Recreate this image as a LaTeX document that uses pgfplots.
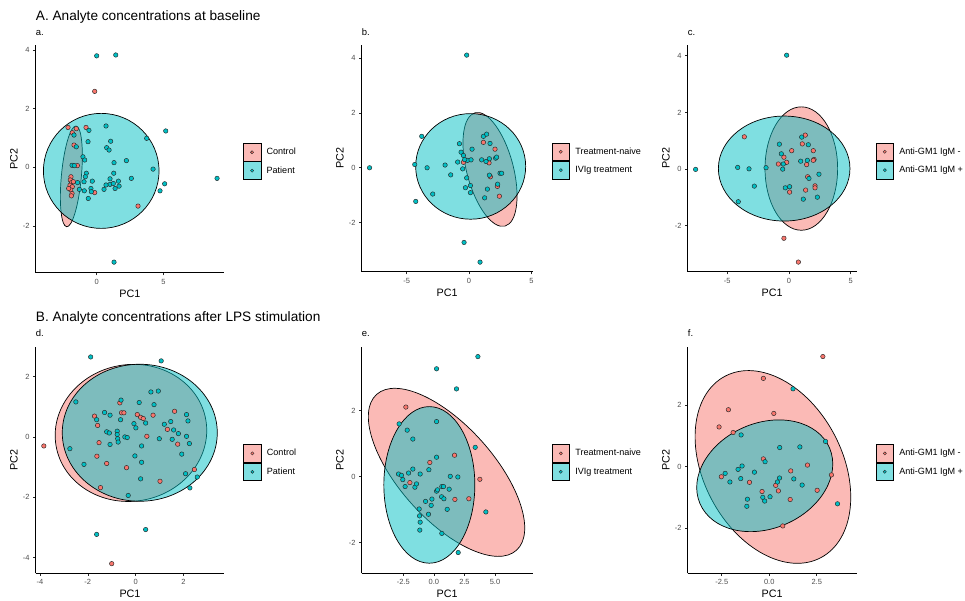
\documentclass[border=0pt]{standalone}
\usepackage{fontspec}
\setmainfont{Liberation Sans}
\usepackage{pgfplots}
\pgfplotsset{compat=1.18}
\definecolor{ggred}{HTML}{F8766D}
\definecolor{ggteal}{HTML}{00BFC4}
\definecolor{tickgray}{HTML}{4D4D4D}
\pgfplotsset{
  ggaxis/.style={
    scale only axis,
    axis lines*=left,
    axis line style={-, black, line width=0.8bp},
    tick align=outside,
    major tick length=2.7bp,
    tick style={black!85, line width=0.6bp},
    ticklabel style={font=\fontsize{7.5}{8}\selectfont, text=tickgray},
    /pgf/number format/assume math mode=true,
    xlabel={PC1}, ylabel={PC2},
    label style={font=\fontsize{10.8}{12}\selectfont},
    x label style={at={(axis description cs:0.5,0)}, anchor=center, yshift=-20.6bp},
    y label style={at={(axis description cs:0,0.5)}, anchor=center, rotate=0, yshift=21.7bp},
    clip=false,
    legend cell align=left,
    legend style={at={(1,0.5)}, anchor=west, xshift=18.7bp, yshift=-2.6bp,
      draw=none, fill=none, inner sep=0pt, row sep=0pt, column sep=5.3bp,
      font=\fontsize{9.1}{10}\selectfont, nodes={inner sep=0pt}},
  },
  redpts/.style={only marks, mark=*, mark size=2.25bp,
    mark options={fill=ggred, draw=black!85, line width=0.45bp},
    legend image code/.code={
      \draw[black, line width=0.6bp, fill=ggred, fill opacity=0.5] (0bp,-8.9bp) rectangle (17.8bp,8.9bp);
      \draw[black!85, line width=0.4bp, fill=ggred] (8.9bp,0bp) circle (1.6bp);}},
  tealpts/.style={only marks, mark=*, mark size=2.25bp,
    mark options={fill=ggteal, draw=black!85, line width=0.45bp},
    legend image code/.code={
      \draw[black, line width=0.6bp, fill=ggteal, fill opacity=0.5] (0bp,-8.9bp) rectangle (17.8bp,8.9bp);
      \draw[black!85, line width=0.4bp, fill=ggteal] (8.9bp,0bp) circle (1.6bp);}},
}
\tikzset{
  ellred/.style={draw=black, line width=0.7bp, fill=ggred, fill opacity=0.5},
  ellteal/.style={draw=black, line width=0.7bp, fill=ggteal, fill opacity=0.5},
}
\begin{document}
\begin{tikzpicture}
\useasboundingbox (0bp,0bp) rectangle (965bp,601bp);
% titles
\node[anchor=base west, inner sep=0pt, font=\fontsize{13.7}{15}\selectfont] at (35.7bp,580.5bp) {A. Analyte concentrations at baseline};
\node[anchor=base west, inner sep=0pt, font=\fontsize{13.7}{15}\selectfont] at (35.7bp,279bp) {B. Analyte concentrations after LPS stimulation};
\foreach \lab/\xx/\yy in {a./35.7/565, b./361.7/565, c./687.7/565, d./35.7/264.3, e./361.7/264.3, f./687.7/264.3}
  \node[anchor=base west, inner sep=0pt, font=\fontsize{9.5}{10}\selectfont] at (\xx bp,\yy bp) {\lab};

% ---------- panel a ----------
\begin{axis}[ggaxis, at={(35.7bp,328.3bp)}, anchor=south west, width=188.3bp, height=227.7bp,
  xmin=-4.575, xmax=9.55, ymin=-3.59, ymax=4.17,
  xtick={0,5}, xticklabels={0,5}, ytick={-2,0,2,4}, yticklabels={-2,0,2,4}]
\draw[ellred] (axis cs:-1.9,-0.307) ellipse [x radius=50.6bp, y radius=10bp, rotate=84.7];
\draw[ellteal] (axis cs:0.34,-0.12) ellipse [x radius=57.8bp, y radius=57.5bp];
\addplot[redpts] coordinates {(-0.15,2.59) (-2.15,1.36) (-1.53,1.32) (-0.8,1.36) (-1.83,1.18) (-1.7,0.76) (-1.45,0.06) (3.1,-1.32) (-0.15,-0.86)
 (-1.93,-0.32) (-1.98,-0.43) (-1.88,-0.52) (-2.0,-0.61) (-1.83,-0.66) (-1.95,-0.77) (-1.85,-0.89) (-1.9,-0.97) (-1.75,-0.49) (-2.1,-0.72)};
\addlegendentry{Control}
\addplot[tealpts] coordinates {(0,3.80) (1.43,3.83) (9.03,-0.375) (5.18,1.24) (3.75,0.99) (0.7,1.41) (4.23,-0.06) (2.23,0.23) (1.3,0.16) (2.6,-0.375)
 (5.1,-0.56) (4.75,-0.8) (1.05,0.89) (0.75,0.67) (0.93,0.59) (1.28,-0.2) (1.0,-0.39) (1.63,-0.47) (1.0,-0.58) (1.25,-0.55) (0.7,-0.6)
 (0.55,-0.75) (1.38,-0.72) (1.68,-0.64) (-0.58,1.26) (-0.65,0.875) (-1.7,1.1) (-1.53,0.7) (-1.03,0.36) (-0.9,0.25) (-1.85,0.07)
 (-1.68,0.06) (-0.78,-0.2) (-0.85,-0.32) (-0.95,-0.49) (-0.33,-0.47) (-1.43,-0.52) (-1.3,-0.75) (-0.43,-0.72) (-0.4,-0.83)
 (-0.63,-1.06) (-0.93,-0.8) (1.3,-3.23)};
\addlegendentry{Patient}
\end{axis}

% ---------- panel b ----------
\begin{axis}[ggaxis, at={(361.7bp,329.3bp)}, anchor=south west, width=171bp, height=226.7bp,
  xmin=-8.6, xmax=5.1, ymin=-3.80, ymax=4.49,
  xtick={-5,0,5}, xticklabels={-5,0,5}, ytick={-2,0,2,4}, yticklabels={-2,0,2,4}]
\draw[ellred] (axis cs:1.68,-0.061) ellipse [x radius=58.6bp, y radius=23.3bp, rotate=104.8];
\draw[ellteal] (axis cs:0.13,0.05) ellipse [x radius=55bp, y radius=52.8bp];
\addplot[redpts] coordinates {(1.15,0.93) (2.08,0.68) (1.6,0.18) (-0.45,0.2) (1.71,-0.33) (2.27,-0.68) (2.43,-1.04)};
\addlegendentry{Treatment-naive}
\addplot[tealpts] coordinates {(-0.19,4.12) (-7.97,0) (-3.79,1.15) (-4.35,0.12) (-4.27,-1.23) (-3.36,0) (-2.91,-0.96) (-1.92,0.1)
 (-1.47,-0.26) (-0.77,0.88) (-0.91,0.21) (-0.64,0.57) (-0.45,0.45) (-0.51,-0.04) (-0.13,0.27) (0.16,0.29) (0.24,0.68)
 (-0.19,-0.37) (-0.29,-0.73) (0.11,-0.65) (0.11,-0.91) (1.01,0.29) (1.15,1.15) (1.41,1.23) (1.68,0.89) (1.36,0.23)
 (1.63,0.33) (2.13,0.35) (2.21,0.39) (1.63,-0.27) (2.48,-0.2) (2.61,-0.2) (2.29,-0.6) (1.47,-0.78) (1.25,-1.1)
 (-0.4,-2.73) (0.88,-3.45) (-0.35,0.3)};
\addlegendentry{IVIg treatment}
\end{axis}

% ---------- panel c ----------
\begin{axis}[ggaxis, at={(687.7bp,329.3bp)}, anchor=south west, width=169bp, height=226.7bp,
  xmin=-8.21, xmax=5.49, ymin=-3.62, ymax=4.38,
  xtick={-5,0,5}, xticklabels={-5,0,5}, ytick={-2,0,2,4}, yticklabels={-2,0,2,4}]
\draw[ellred] (axis cs:1.0,0.02) ellipse [x radius=36.3bp, y radius=61.7bp];
\draw[ellteal] (axis cs:-0.39,0.02) ellipse [x radius=65.8bp, y radius=52.5bp];
\addplot[redpts] coordinates {(-3.62,1.14) (1.32,1.2) (1.08,0.89) (0.22,0.65) (-0.41,0.42) (-0.86,0.18) (-0.19,0.24) (1.43,0.16)
 (1.97,0.65) (2.03,0.34) (1.97,0.31) (1.51,-0.27) (2.11,-0.59) (2.11,-0.66) (1.35,-0.74) (0.05,-0.81) (-0.41,-2.44) (0.76,-3.28)};
\addlegendentry{Anti-GM1 IgM -}
\addplot[tealpts] coordinates {(-0.19,4.02) (-7.57,-0.01) (-4.16,0.06) (-4.11,-1.15) (-3.24,0.01) (-2.81,-0.6) (-1.86,0.05)
 (-0.78,0.88) (-0.62,0.54) (-0.46,0.18) (-0.51,0) (-0.3,-0.66) (0.05,-0.62) (1.03,1.13) (1.57,0.86) (0.95,0.28)
 (1.49,0.31) (1.62,-0.33) (2.43,-0.18) (2.3,-0.99) (1.16,-1.06)};
\addlegendentry{Anti-GM1 IgM +}
\end{axis}

% ---------- panel d ----------
\begin{axis}[ggaxis, at={(35.7bp,27.7bp)}, anchor=south west, width=188.6bp, height=226.6bp,
  xmin=-4.18, xmax=3.71, ymin=-4.52, ymax=2.99,
  xtick={-4,-2,0,2}, xticklabels={-4,-2,0,2}, ytick={-4,-2,0,2}, yticklabels={-4,-2,0,2}]
\draw[ellred] (axis cs:-0.195,0.133) ellipse [x radius=76bp, y radius=68.3bp, rotate=10];
\draw[ellteal] (axis cs:0.174,0.138) ellipse [x radius=77.5bp, y radius=68.5bp];
\addplot[redpts] coordinates {(-3.84,-0.3) (-1.72,0.69) (-1.59,0.38) (-1.53,-0.19) (-1.62,-0.64) (-1.21,-0.88) (-1.47,-1.68)
 (-0.66,1.13) (-0.59,0.8) (-0.49,0.8) (0.07,0.74) (0.21,0.65) (0.32,0.61) (0.73,0.72) (0.47,0.02) (-0.38,-1.02)
 (1.33,0.25) (1.63,0.85) (1.76,-0.24) (1.02,-1.47) (2.46,-1.08) (-1.0,-4.2)};
\addlegendentry{Control}
\addplot[tealpts] coordinates {(-1.88,2.65) (1.07,2.52) (-2.5,1.16) (-2.75,-0.39) (-2.16,-0.91) (-1.63,0.57) (-1.3,0.81)
 (-1.07,0.72) (-1.21,0.17) (-1.1,0.13) (-1.07,-0.25) (-0.77,0.19) (-0.77,0.08) (-0.75,-0.06) (-0.73,-0.17) (-0.63,0.57)
 (-0.61,1.22) (-0.45,0) (-0.35,-0.02) (-0.07,0.44) (0.01,0.3) (-0.03,-0.63) (0.15,1.14) (0.42,0.46) (0.25,-0.3)
 (0.25,-0.84) (0.21,-1.39) (-0.31,-1.94) (0.64,1.49) (0.95,1.52) (0.77,1.07) (0.99,-0.06) (1.2,0.42) (1.47,0.51)
 (1.59,0.23) (1.53,-0.08) (1.79,0.11) (2.13,0.74) (2.19,0.53) (2.13,0.02) (2.25,-0.22) (1.93,-0.57) (2.09,-1.22)
 (2.58,-1.33) (2.27,-1.69) (-1.63,-3.23) (0.42,-3.07)};
\addlegendentry{Patient}
\end{axis}

% ---------- panel e ----------
\begin{axis}[ggaxis, at={(361.7bp,27.7bp)}, anchor=south west, width=171bp, height=226.6bp,
  xmin=-5.9, xmax=8.08, ymin=-2.93, ymax=3.94,
  xtick={-2.5,0,2.5,5}, xticklabels={-2.5,0.0,2.5,5.0}, ytick={-2,0,2}, yticklabels={-2,0,2}]
\draw[ellred] (axis cs:1.036,0.131) ellipse [x radius=104.7bp, y radius=47bp, rotate=-48.1];
\draw[ellteal] (axis cs:-0.37,-0.25) ellipse [x radius=45.5bp, y radius=78.3bp];
\addplot[redpts] coordinates {(-2.29,2.11) (-0.33,0.43) (-1.96,-0.18) (1.69,0.65) (1.72,-0.69) (2.86,-0.67) (3.76,-0.08)};
\addlegendentry{Treatment-naive}
\addplot[tealpts] coordinates {(3.6,3.64) (0.22,3.27) (1.85,2.66) (-2.84,1.6) (-2.18,1.41) (-1.72,1.14) (0.22,1.67) (3.38,0.89)
 (-2.89,0.08) (-2.65,0.04) (-2.54,-0.09) (-2.35,-0.3) (-2.07,0.11) (-1.72,0.23) (-1.55,-0.32) (-1.42,-0.22) (-1.12,0.08)
 (-0.41,0.21) (0.22,0.59) (0.22,-0.44) (0.3,-0.4) (0.65,-0.3) (0.79,-0.3) (0.63,-0.61) (0.82,-0.67) (1.34,0.01)
 (1.25,-0.38) (1.96,-0.01) (-0.16,-0.68) (-0.68,-0.75) (-0.22,-0.87) (-1.2,-0.98) (-0.44,-1.14) (-1.17,-1.19)
 (-1.12,-1.38) (-1.15,-1.62) (0.65,-1.72) (1.09,-0.99) (1.99,-2.3) (4.25,-1.07)};
\addlegendentry{IVIg treatment}
\end{axis}

% ---------- panel f ----------
\begin{axis}[ggaxis, at={(687.7bp,27.7bp)}, anchor=south west, width=169bp, height=226.6bp,
  xmin=-4.29, xmax=4.6, ymin=-3.47, ymax=3.9,
  xtick={-2.5,0,2.5}, xticklabels={-2.5,0.0,2.5}, ytick={-2,0,2}, yticklabels={-2,0,2}]
\draw[ellred] (axis cs:0.193,-0.011) ellipse [x radius=102.6bp, y radius=69.4bp, rotate=-62.2];
\draw[ellteal] (axis cs:-0.237,-0.298) ellipse [x radius=70.5bp, y radius=52.7bp, rotate=23.3];
\addplot[redpts] coordinates {(2.82,3.58) (-0.31,2.87) (-2.15,1.85) (-2.64,1.29) (-1.9,1.11) (0.24,1.73) (-0.31,0.25)
 (-2.52,-0.33) (-1.04,-0.51) (1.13,-0.14) (2.01,0.05) (3.27,-0.27) (0.34,-0.61) (0.48,-0.79) (-0.38,-0.81)
 (1.1,-1.07) (2.52,-0.77) (0.71,-1.93)};
\addlegendentry{Anti-GM1 IgM -}
\addplot[tealpts] coordinates {(1.25,2.53) (2.96,0.82) (-1.48,1.03) (0.55,0.62) (1.61,0.64) (-2.32,-0.22) (-2.07,-0.5)
 (-1.64,-0.09) (-1.43,0.02) (-1.5,-0.39) (-0.78,-0.18) (-0.22,0.16) (0.54,-0.37) (0.43,-0.5) (1.29,-0.4) (1.73,-0.6)
 (-1.15,-1.06) (-1.18,-1.29) (-0.34,-1.0) (-0.24,-1.12) (0.04,-0.98) (3.59,-1.21)};
\addlegendentry{Anti-GM1 IgM +}
\end{axis}
\end{tikzpicture}
\end{document}
